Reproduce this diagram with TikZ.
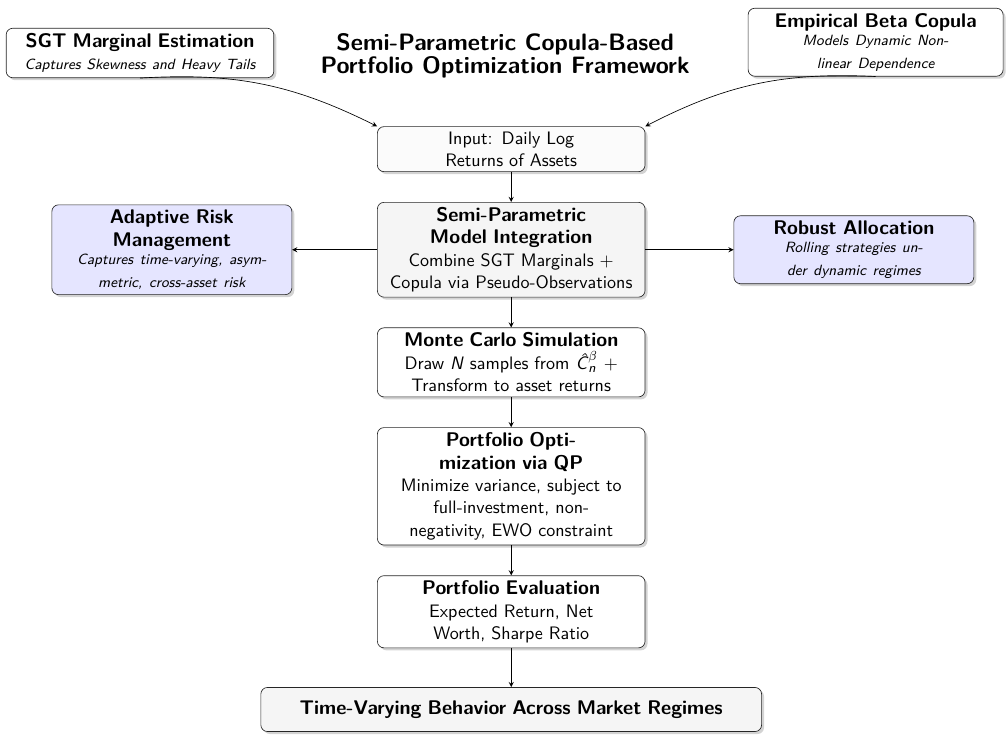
\documentclass[tikz,border=0pt,11pt]{standalone}
\usepackage{amsmath}
\usepackage{amssymb}
\usetikzlibrary{positioning,shadows}

\begin{document}
\begin{tikzpicture}[->, >=stealth, node distance=0.64cm, font=\sffamily]
                \tikzstyle{flowbox}=[rectangle, rounded corners=4pt, draw=black!85, fill=white, align=center, text width=5.45cm, inner ysep=3pt, drop shadow={shadow xshift=1.5pt, shadow yshift=-1.5pt, opacity=0.35}]
                \tikzstyle{sidebox}=[flowbox, fill=blue!10, text width=4.86cm, font=\sffamily\large]
                \useasboundingbox (0,0) rectangle (21.45,-15.69);

                \node[align=center] (title) at (10.77,-1.19) {{\Large\bfseries Semi-Parametric Copula-Based}\\{\Large\bfseries Portfolio Optimization Framework}};
                \node[flowbox] (sgt) at (2.985,-1.13) {{\large\bfseries SGT Marginal Estimation}\\{\footnotesize\itshape Captures Skewness and Heavy Tails}};
                \node[flowbox, font=\sffamily\large, text width=5.18cm] (ebc) at (18.67,-0.90) {{\bfseries Empirical Beta Copula}\\{\footnotesize\itshape Models Dynamic Non-\\linear Dependence}};

                \node[flowbox, fill=gray!3] (input) at (10.90,-3.18) {Input: Daily Log\\Returns of Assets};
                \node[flowbox, fill=gray!8] (semi) [below=of input] {{\large\bfseries Semi-Parametric\\Model Integration}\\Combine SGT Marginals $+$\\Copula via Pseudo-Observations};
                \node[flowbox] (monte) [below=of semi] {{\large\bfseries Monte Carlo Simulation}\\Draw \textit{N} samples from \textit{\^C}$_{\textit{n}}^{\beta}$ $+$\\Transform to asset returns};
                \node[flowbox] (popt) [below=of monte] {{\large\bfseries Portfolio Opti-\\mization via QP}\\Minimize variance, subject to\\full-investment, non-\\negativity, EWO constraint};
                \node[flowbox] (eval) [below=of popt] {{\large\bfseries Portfolio Evaluation}\\Expected Return, Net\\Worth, Sharpe Ratio};
                \node[flowbox, fill=gray!8, text width=10.42cm, minimum height=0.94cm] (regimes) [below=0.83cm of eval] {\large\bfseries Time-Varying Behavior Across Market Regimes};

                \node[sidebox] (adapt) [left=1.81cm of semi] {{\bfseries Adaptive Risk\\Management}\\{\footnotesize\itshape Captures time-varying, asym-\\metric, cross-asset risk}};
                \node[sidebox] (robust) [right=1.88cm of semi] {{\bfseries Robust Allocation}\\{\footnotesize\itshape Rolling strategies un-\\der dynamic regimes}};

                \path
                (input) edge (semi)
                (semi)  edge (monte)
                (monte) edge (popt)
                (popt)  edge (eval)
                (eval)  edge (regimes)
                (semi)  edge (adapt)
                (semi)  edge (robust)
                (sgt.south) edge[bend left=15]  (input.north west)
                (ebc.south) edge[bend right=15] (input.north east);
            \end{tikzpicture}
\end{document}
